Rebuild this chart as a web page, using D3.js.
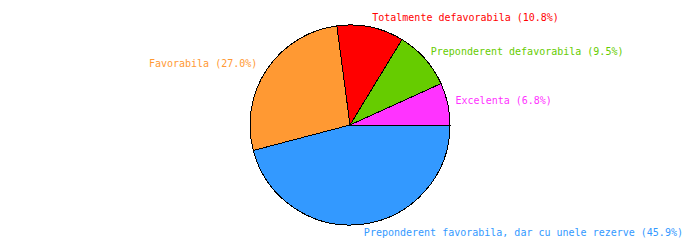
<!DOCTYPE html>
<html>
<head>
<meta charset="utf-8">
<script src="https://cdn.jsdelivr.net/npm/d3@7"></script>
<style>
html,body{margin:0;padding:0;background:#fff;}
svg{display:block;}
text{font-family:"DejaVu Sans Mono",monospace;font-size:10px;}
</style>
</head>
<body>
<svg id="chart" width="700" height="250"></svg>
<script>
const categories = ["Excelenta", "Preponderent defavorabila", "Totalmente defavorabila", "Favorabila", "Preponderent favorabila, dar cu unele rezerve"];
const values = [6.8, 9.5, 10.8, 27.0, 45.9];
const colors = ["#FF33FF", "#66CC00", "#FF0000", "#FF9933", "#3399FF"];

const svg = d3.select("#chart");
const cx = 350, cy = 125, r = 100, labelR = 108;
const g = svg.append("g").attr("transform", `translate(${cx},${cy})`);

const data = categories.map((c, i) => ({name: c, value: values[i], color: colors[i]}));
const pie = d3.pie().sort(null).value(d => d.value)
  .startAngle(Math.PI / 2).endAngle(Math.PI / 2 - 2 * Math.PI);
const arc = d3.arc().innerRadius(0).outerRadius(r);
const arcs = pie(data);

g.selectAll("path.slice").data(arcs).enter().append("path")
  .attr("class", "slice")
  .attr("d", arc)
  .attr("fill", d => d.data.color)
  .attr("stroke", "#000")
  .attr("stroke-width", 1)
  .attr("shape-rendering", "crispEdges");

g.selectAll("text.lbl").data(arcs).enter().append("text")
  .attr("class", "lbl")
  .each(function(d) {
    const a = (d.startAngle + d.endAngle) / 2;
    const right = Math.sin(a) >= 0;
    const x = labelR * Math.sin(a) + (right ? 0 : -3);
    const y = -labelR * Math.cos(a) + (Math.cos(a) > 0 ? -1 : 1);
    d3.select(this)
      .attr("x", x).attr("y", y)
      .attr("text-anchor", right ? "start" : "end")
      .attr("dominant-baseline", "middle");
  })
  .attr("fill", d => d.data.color)
  .text(d => `${d.data.name} (${d.data.value.toFixed(1)}%)`);
</script>
</body>
</html>
